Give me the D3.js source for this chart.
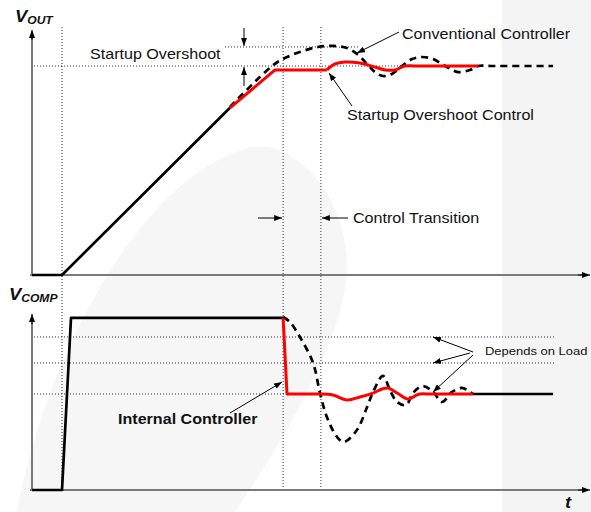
<!DOCTYPE html>
<html>
<head>
<meta charset="utf-8">
<script src="https://cdn.jsdelivr.net/npm/d3@7"></script>
<style>
body { margin: 0; background: #fff; }
text { font-family: "Liberation Sans", Arial, sans-serif; fill: #111; }
</style>
</head>
<body>
<svg id="chart" width="591" height="512"></svg>
<script>
// time in arbitrary units, voltages normalised to their final value
var eventTimes = [1, 8.37, 9.63];        // soft-start, control transition start / end
var voutLevels = [1, 1.091];              // regulated value, startup overshoot
var vcompLevels = [1, 1.323, 1.594];      // settled value, two load dependent levels

var voutStart = [[0, 0], [1, 0], [6.6, 0.8]];
var voutCtrlRamp = [[6.6, 0.8], [8.1, 0.981], [9.83, 0.981]];
var voutCtrlSettle = [[9.83, 0.981], [10.1, 1.01], [10.43, 1.019], [10.93, 1.014], [11.43, 0.995],
    [11.77, 0.981], [12.1, 0.981], [12.43, 1.0], [12.8, 1.0], [14.87, 1.0]];
var voutConv = [[6.6, 0.804], [8.0, 1.0], [8.43, 1.038], [8.93, 1.067], [9.53, 1.091], [10.03, 1.096],
    [10.5, 1.086], [10.87, 1.053], [11.2, 1.005], [11.43, 0.971], [11.7, 0.952], [12.0, 0.962],
    [12.33, 1.0], [12.67, 1.033], [13.0, 1.043], [13.37, 1.033], [13.77, 1.0], [14.2, 0.971],
    [14.6, 0.981], [14.87, 1.0], [15.3, 1.0], [17.37, 1.0]];

var vcompStart = [[0, 0], [1, 0], [1.3, 1.792], [8.37, 1.792]];
var vcompCtrlDrop = [[8.37, 1.792], [8.5, 1.0], [9.63, 1.0]];
var vcompCtrlSettle = [[9.63, 1.0], [10.03, 0.99], [10.5, 0.938], [10.93, 0.969], [11.37, 1.01],
    [11.67, 1.052], [11.87, 1.063], [12.17, 1.01], [12.53, 0.948], [12.83, 0.99], [12.93, 1.0],
    [13.3, 1.0], [14.7, 1.0]];
var vcompTail = [[14.7, 1.0], [17.37, 1.0]];
var vcompConv = [[8.37, 1.802], [8.6, 1.75], [8.93, 1.594], [9.37, 1.323], [9.6, 1.01], [9.83, 0.76],
    [10.17, 0.552], [10.4, 0.5], [10.83, 0.625], [11.17, 0.865], [11.37, 1.021], [11.7, 1.188],
    [11.93, 1.042], [12.17, 0.917], [12.47, 0.885], [12.7, 1.01], [13.03, 1.083], [13.37, 1.021],
    [13.67, 0.917], [14.0, 1.021], [14.33, 1.063], [14.6, 1.021], [14.7, 1.0]];

var svg = d3.select('#chart');

var x = d3.scaleLinear().domain([0, 18.6]).range([32, 590]);
var yTop = d3.scaleLinear().domain([0, 1]).range([275, 66]);
var yBot = d3.scaleLinear().domain([0, 1]).range([490, 394]);

// faint watermark background
svg.append('rect').attr('x', 502).attr('y', 0).attr('width', 89).attr('height', 512).attr('fill', '#f4f4f4');
svg.append('path')
    .attr('d', 'M17,512 C40,380 130,180 250,147 C300,140 345,200 347,263 C348,330 290,430 235,512 Z')
    .attr('fill', '#f6f6f6');

var defs = svg.append('defs');
defs.append('marker')
    .attr('id', 'ah')
    .attr('viewBox', '0 0 8 6')
    .attr('refX', 8).attr('refY', 3)
    .attr('markerWidth', 8).attr('markerHeight', 6)
    .attr('markerUnits', 'userSpaceOnUse')
    .attr('orient', 'auto')
    .append('path').attr('d', 'M0,0 L8,3 L0,6 Z').attr('fill', '#000');

var seg = function(x1, y1, x2, y2) {
    return svg.append('line')
        .attr('x1', x1).attr('y1', y1).attr('x2', x2).attr('y2', y2);
};

var dotted = function(x1, y1, x2, y2) {
    seg(x1, y1, x2, y2).attr('stroke', '#333').attr('stroke-width', 1).attr('stroke-dasharray', '1,2');
};

// reference lines
eventTimes.forEach(function(t) { dotted(x(t), 27, x(t), 490); });
dotted(34, yTop(voutLevels[0]), 478, yTop(voutLevels[0]));
dotted(225, yTop(voutLevels[1]), 358, yTop(voutLevels[1]));
dotted(34, yBot(vcompLevels[1]), 555, yBot(vcompLevels[1]));
dotted(34, yBot(vcompLevels[2]), 555, yBot(vcompLevels[2]));
dotted(34, yBot(vcompLevels[0]), 290, yBot(vcompLevels[0]));

// axes
var axisColor = '#7a7a7a';
seg(32, 275, 32, 32).attr('stroke', axisColor).attr('stroke-width', 2);
seg(32, 490, 32, 316).attr('stroke', axisColor).attr('stroke-width', 2);
seg(30, 275, 585, 275).attr('stroke', axisColor).attr('stroke-width', 2);
seg(30, 490, 585, 490).attr('stroke', axisColor).attr('stroke-width', 2);
seg(32, 40, 32, 30).attr('stroke', '#000').attr('stroke-width', 1).attr('marker-end', 'url(#ah)');
seg(32, 324, 32, 314).attr('stroke', '#000').attr('stroke-width', 1).attr('marker-end', 'url(#ah)');
seg(578, 275, 590, 275).attr('stroke', '#000').attr('stroke-width', 1).attr('marker-end', 'url(#ah)');
seg(578, 490, 590, 490).attr('stroke', '#000').attr('stroke-width', 1).attr('marker-end', 'url(#ah)');

var lineTop = d3.line().x(function(d) { return x(d[0]); }).y(function(d) { return yTop(d[1]); });
var lineBot = d3.line().x(function(d) { return x(d[0]); }).y(function(d) { return yBot(d[1]); });
var curveTop = d3.line().curve(d3.curveCatmullRom).x(function(d) { return x(d[0]); }).y(function(d) { return yTop(d[1]); });
var curveBot = d3.line().curve(d3.curveCatmullRom).x(function(d) { return x(d[0]); }).y(function(d) { return yBot(d[1]); });

var red = '#ff0000';

var trace = function(gen, data, color, dash) {
    var p = svg.append('path')
        .attr('d', gen(data))
        .attr('fill', 'none')
        .attr('stroke', color)
        .attr('stroke-width', color === red ? 3 : 2.7)
        .attr('stroke-linejoin', 'round');
    if (dash) p.attr('stroke-dasharray', dash);
};

// VOUT
trace(lineTop, voutStart, '#000');
trace(curveTop, voutConv, '#000', '7,5');
trace(lineTop, voutCtrlRamp, red);
trace(curveTop, voutCtrlSettle, red);
// VCOMP
trace(lineBot, vcompStart, '#000');
trace(lineBot, vcompTail, '#000');
trace(curveBot, vcompConv, '#000', '7,5');
trace(lineBot, vcompCtrlDrop, red);
trace(curveBot, vcompCtrlSettle, red);

// annotation arrows
var pointer = function(x1, y1, x2, y2) {
    seg(x1, y1, x2, y2).attr('stroke', '#000').attr('stroke-width', 1).attr('marker-end', 'url(#ah)');
};
pointer(244, 28, 244, yTop(voutLevels[1]) - 1);
pointer(244, 86, 244, yTop(voutLevels[0]) + 1);
pointer(258, 218, x(eventTimes[1]) - 1, 218);
pointer(348, 218, x(eventTimes[2]) + 1, 218);
pointer(399, 32, 357, 53);
pointer(352, 106, 329, 73);
pointer(230, 413, 282, 382);
pointer(473, 352, 433, yBot(vcompLevels[2]));
pointer(470, 353, 433, yBot(vcompLevels[1]));
pointer(473, 355, 433, yBot(vcompLevels[0]) - 2);

// labels (source artwork is stretched horizontally)
var label = function(px, py, str, size, weight) {
    return svg.append('text')
        .attr('transform', 'translate(' + px + ',' + py + ') scale(1.15,1)')
        .attr('font-size', size)
        .attr('font-weight', weight || 'normal')
        .text(str);
};
label(90, 59, 'Startup Overshoot', 14);
label(402, 39, 'Conventional Controller', 14);
label(347, 120, 'Startup Overshoot Control', 14);
label(353, 223, 'Control Transition', 14);
label(485, 355, 'Depends on Load', 11.3);
label(118, 424, 'Internal Controller', 14, 'bold');

var axisName = function(px, py, main, sub) {
    var t = svg.append('text')
        .attr('transform', 'translate(' + px + ',' + py + ') scale(1.15,1)')
        .attr('font-weight', 'bold').attr('font-style', 'italic');
    t.append('tspan').attr('font-size', 16).text(main);
    if (sub) t.append('tspan').attr('font-size', 10.5).attr('dy', 2).text(sub);
};
axisName(15, 22, 'V', 'OUT');
axisName(9, 300, 'V', 'COMP');
axisName(565, 508, 't');
</script>
</body>
</html>
